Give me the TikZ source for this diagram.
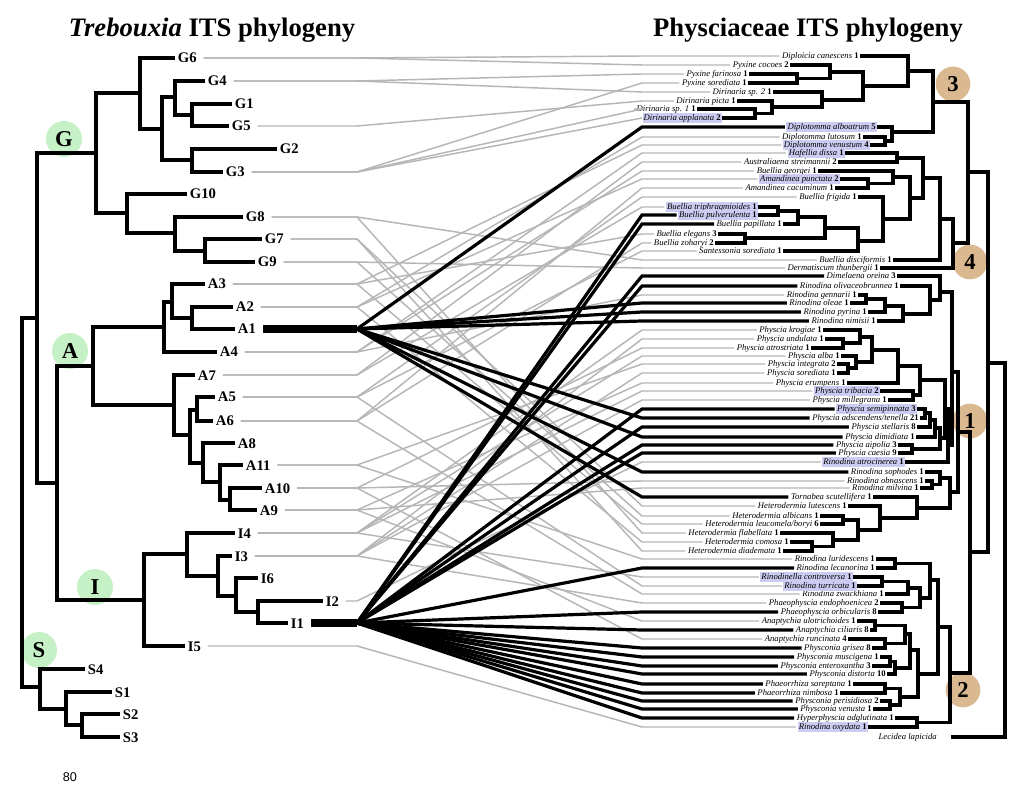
\documentclass[tikz,border=0pt]{standalone}
\usepackage{fontspec}
\setmainfont{Liberation Serif}
\setsansfont{Liberation Sans}
\usepackage{xcolor}
\usetikzlibrary{calc}
\definecolor{linkgray}{RGB}{182,182,182}
\definecolor{cladegreen}{RGB}{198,240,198}
\definecolor{cladetan}{RGB}{218,184,144}
\definecolor{hlblue}{RGB}{204,204,242}

\begin{document}
\begin{tikzpicture}[x=0.75pt,y=-0.75pt,
  br/.style={line width=2.5pt},
  glink/.style={linkgray, line width=1.1pt},
  blink/.style={black, line width=2.4pt},
  lt/.style={anchor=west, inner sep=2pt, font=\bfseries\fontsize{11}{11}\selectfont, text height=7.5pt, text depth=0pt},
  rt/.style={anchor=east, inner sep=0.8pt, font=\fontsize{6.5}{6.5}\selectfont, text height=4.7pt, text depth=1.4pt},
  hl/.style={rt, fill=hlblue},
  gclade/.style={circle, fill=cladegreen, minimum size=27pt, inner sep=0pt, font=\bfseries\fontsize{17}{17}\selectfont},
  nclade/.style={circle, fill=cladetan, minimum size=26pt, inner sep=0pt, font=\bfseries\fontsize{17}{17}\selectfont}]
  \useasboundingbox (0,0) rectangle (1024,805);
  \fill[white] (0,0) rectangle (1024,805);

  % titles and page number
  \node[font=\bfseries\fontsize{20}{20}\selectfont] (ltitle) at (212,30) {\textit{Trebouxia} ITS phylogeny};
  \node[font=\bfseries\fontsize{20}{20}\selectfont] (rtitle) at (808,30) {Physciaceae ITS phylogeny};
  \node[font=\sffamily\fontsize{9.5}{9.5}\selectfont] (pnum) at (70,777) {80};

  % clade marks
  \node[gclade] (cG) at (64,139) {G};
  \node[gclade] (cA) at (70,351) {A};
  \node[gclade] (cI) at (95,587) {I};
  \node[gclade] (cS) at (39,650) {S};
  \node[nclade] (c3) at (953,84) {3};
  \node[nclade] (c4) at (970,262) {4};
  \node[nclade] (c1) at (970,421) {1};
  \node[nclade] (c2) at (963,690) {2};

  % left tree: internal nodes
  \foreach \n/\x/\y in {lroot/22/502, nGAI/37/318, nAI/57/483, nG/96/153, nG1/140/93, nG1b/162/129,
      nG4/175/97, nG15/192/115, nG23/192/160, nG2/127/213, nG8/175/233, nG79/205/251,
      nA/93/366, nA1/164/327, nA3/172/302, nA12/192/318, nA2/174/405, nA5/190/435, nA56/197/410,
      nA8/203/463, nA11/220/482, nA910/230/500,
      nI/144/600, nI4/187/554, nI3/218/576, nI6/236/596, nI12/258/612,
      nS/40/687, nS1/66/709, nS23/82/725}
    \coordinate (\n) at (\x,\y);

  % left tree: taxa
  \foreach \n/\x/\y in {G6/175/58, G4/205/81, G1/232/104, G5/229/126, G2/277/149, G3/223/172,
      G10/187/194, G8/243/217, G7/262/239, G9/255/262,
      A3/205/284, A2/233/307, A1/235/329, A4/217/352, A7/195/375, A5/215/397, A6/213/421,
      A8/235/443, A11/243/465, A10/262/488, A9/257/510,
      I4/235/533, I3/232/556, I6/258/578, I2/323/601, I1/288/623, I5/185/646,
      S4/85/669, S1/112/692, S2/120/714, S3/120/737}
    \node[lt] (\n) at (\x,\y) {\n};

  % right tree: taxa
  \foreach \n/\t/\k/\x/\y in {
      Dcan/Diploicia canescens/1/860/56, Pcoc/Pyxine cocoes/2/790/65, Pfar/Pyxine farinosa/1/749/74,
      Psor/Pyxine sorediata/1/748/83, Dsp2/Dirinaria sp. 2/1/773/92, Dpic/Dirinaria picta/1/737/101,
      Dsp1/Dirinaria sp. 1/1/697/109, Dlut/Diplotomma lutosum/1/863/137,
      Astr/Australiaena streimannii/2/838/162, Bgeo/Buellia georgei/1/818/171,
      Acac/Amandinea cacuminum/1/835/188, Bfri/Buellia frigida/1/858/197,
      Bpap/Buellia papillata/1/783/224, Bele/Buellia elegans/3/718/234, Bzoh/Buellia zoharyi/2/715/243,
      Ssor/Santessonia sorediata/1/783/251, Bdis/Buellia disciformis/1/893/260,
      Dthu/Dermatiscum thunbergii/1/880/268, Dore/Dimelaena oreina/3/897/276,
      Roli/Rinodina olivaceobrunnea/1/900/286, Rgen/Rinodina gennarii/1/858/295,
      Role/Rinodina oleae/1/850/303, Rpyr/Rinodina pyrina/1/868/312, Rnim/Rinodina nimisii/1/877/321,
      Pkro/Physcia krogiae/1/823/330, Pund/Physcia undulata/1/825/339, Patr/Physcia atrostriata/1/811/348,
      Palb/Physcia alba/1/841/356, Pint/Physcia integrata/2/837/364, Psrd/Physcia sorediata/1/837/373,
      Peru/Physcia erumpens/1/847/383, Pmil/Physcia millegrana/1/888/400,
      Pste/Physcia stellaris/8/917/427, Pdim/Physcia dimidiata/1/916/437,
      Paip/Physcia aipolia/3/898/445, Pcae/Physcia caesia/9/898/453,
      Rsop/Rinodina sophodes/1/925/472, Robn/Rinodina obnascens/1/925/481, Rmil/Rinodina milvina/1/920/488,
      Tscu/Tornabea scutellifera/1/873/497, Hlut/Heterodermia lutescens/1/848/506,
      Halb/Heterodermia albicans/1/820/516, Hfla/Heterodermia flabellata/1/780/533,
      Hcom/Heterodermia comosa/1/790/542, Hdia/Heterodermia diademata/1/783/551,
      Rlur/Rinodina luridescens/1/876/559, Rlec/Rinodina lecanorina/1/876/568,
      Rzwa/Rinodina zwackhiana/1/885/594, Pend/Phaeophyscia endophoenicea/2/880/603,
      Porb/Phaeophyscia orbicularis/8/878/612, Aulo/Anaptychia ulotrichoides/1/857/621,
      Acil/Anaptychia ciliaris/8/870/630, Arun/Anaptychia runcinata/4/848/639,
      Pgri/Physconia grisea/8/872/648, Pmus/Physconia muscigena/1/880/657,
      Pent/Physconia enteroxantha/3/872/666, Pdis/Physconia distorta/10/887/674,
      Psar/Phaeorrhiza sareptana/1/853/684, Pnim/Phaeorrhiza nimbosa/1/840/693,
      Pper/Physconia perisidiosa/2/880/701, Pven/Physconia venusta/1/873/709,
      Hadg/Hyperphyscia adglutinata/1/895/718}
    \node[rt] (\n) at (\x,\y) {\textit{\t} \textbf{\k}};
  \node[rt] (Pads) at (920,418) {\textit{Physcia adscendens/tenella} \textbf{21}};
  \node[rt] (Hleu) at (820,524) {\textit{Heterodermia leucomela/boryi} \textbf{6}};
  \node[rt] (Llap) at (938,737) {\textit{Lecidea lapicida}};
  \foreach \n/\t/\k/\x/\y in {
      Dapp/Dirinaria applanata/2/722/118, Dalb/Diplotomma alboatrum/5/877/127,
      Dven/Diplotomma venustum/4/870/145, Hdis/Hafellia dissa/1/845/153,
      Apun/Amandinea punctata/2/840/179, Btri/Buellia triphragmioides/1/758/207,
      Bpul/Buellia pulverulenta/1/758/215, Ptri/Physcia tribacia/2/880/391,
      Psem/Physcia semipinnata/3/917/409, Ratr/Rinodina atrocinerea/1/905/462,
      Rcon/Rinodinella controversa/1/853/577, Rtur/Rinodina turricata/1/857/586,
      Roxy/Rinodina oxydata/1/868/727}
    \node[hl] (\n) at (\x,\y) {\textit{\t} \textbf{\k}};

  % right tree: internal nodes
  \foreach \n/\x/\y in {rP1/797/78.5, rP2/830/72, rD1/755/113.5, rD2/772/107, rD3/822/100, rPD/863/86,
      rDPD/908/71, rL1/885/141, rL2/892/132, r3/933/102,
      rH1/897/158, rA1/868/183.5, rA2/893/177, rB1/778/211, rB2/798/217, rB3/745/238, rB4/825/228,
      rB5/858/241, rF1/883/219, rF2/910/198, rF3/923/178, rF4/940/219, rF5/953/243, r4/968/172,
      rR1/866/299, rR2/885/306, rR3/903/314, rR4/930/300, rR5/940/292,
      rPh1/843/343, rPh2/860/337, rPh3/848/368, rPh4/856/362, rPh5/872/350, rPh6/898/366,
      rPh7/913/395, rPh8/920/380, rPh9/925/413, rPh10/930/420, rPh11/935/428, rPh12/912/449,
      rPh13/940/438, rPh14/945/409, rPh15/948/445, r1a/952/372,
      rS1/932/484.5, rS2/940/478, rHet1/843/520, rHet2/812/546.5, rHet3/833/540, rHet5/858/530,
      rHet6/880/518, rHet7/917/508, rS3/950/492, r1/958/432,
      rRl1/895/563.5, rRt1/882/581.5, rRt2/908/588, rPe/902/607.5, rRt3/920/598, rC2a/930/580,
      rAn1/875/625.5, rAn2/885/643.5, rPc1/890/661.5, rPc2/895/668, rPr1/885/688.5, rPv1/890/705,
      rPr2/900/697, rAn3/905/634, rAn4/910/650, rAn5/918/674, rHy/917/722.5,
      rC2b/938/627, r2a/950/673, r12/970/552, rR/988/363, rroot/1005/550}
    \coordinate (\n) at (\x,\y);

  \coordinate (hub) at (357,0);
  \coordinate (jun) at (642,0);

  % gray associations
  \foreach \a/\b in {G6/Dcan, G6/Pcoc, G4/Pfar, G4/Dsp2, G5/Dpic, G3/Psor, G3/Dsp1, G3/Dapp,
      A2/Dlut, A3/Dven, A4/Hdis, A7/Astr, A4/Bgeo, A2/Apun, A6/Acac, A5/Bfri, A7/Btri, A3/Bele,
      A6/Bzoh, A5/Ssor, G8/Bdis, G9/Dthu, A4/Rgen,
      I4/Pkro, I3/Pund, A10/Patr, I4/Palb, A11/Pint, I3/Psrd, A9/Peru, I4/Ptri, I3/Pmil,
      I2/Ratr, A10/Robn, A9/Rmil,
      G7/Hlut, G9/Halb, A3/Hleu, G8/Hfla, A2/Hcom, G7/Hdia, A11/Rlur, I4/Rcon, A5/Rtur,
      A6/Rzwa, I3/Pend, A9/Aulo, A10/Arun, I5/Roxy}
    \draw[glink] ([xshift=3pt]\a.east) -- (\a.east -| hub) -- (\b.west -| jun) -- ([xshift=-1pt]\b.west);

  % black associations
  \coordinate (A1hub) at (A1.east -| hub);
  \coordinate (I1hub) at (I1.east -| hub);
  \draw[line width=6.5pt] ([xshift=3pt]A1.east) -- (A1hub);
  \draw[line width=6.5pt] ([xshift=3pt]I1.east) -- (I1hub);
  \foreach \b in {Dalb, Role, Rpyr, Rnim, Pads, Pdim, Rsop, Tscu}
    \draw[blink] (A1hub) -- (\b.west -| jun) -- ([xshift=-1pt]\b.west);
  \foreach \b in {Bpul, Bpap, Dore, Roli, Psem, Pste, Paip, Pcae, Rlec, Porb, Acil, Pgri,
      Pmus, Pent, Pdis, Psar, Pnim, Pper, Pven, Hadg}
    \draw[blink] (I1hub) -- (\b.west -| jun) -- ([xshift=-1pt]\b.west);

  % left tree branches
  \foreach \p/\c in {lroot/nGAI, lroot/nS, nGAI/nG, nGAI/nAI, nAI/nA, nAI/nI, nG/nG1, nG/nG2,
      nG1/nG1b, nG1b/nG4, nG1b/nG23, nG4/nG15, nG2/nG8, nG8/nG79, nA/nA1, nA/nA2, nA1/nA3,
      nA3/nA12, nA2/nA5, nA5/nA56, nA5/nA8, nA8/nA11, nA11/nA910, nI/nI4, nI4/nI3, nI3/nI6,
      nI6/nI12, nS/nS1, nS1/nS23}
    \draw[br] (\p) |- (\c);
  \foreach \p/\c in {nG1/G6, nG4/G4, nG15/G1, nG15/G5, nG23/G2, nG23/G3, nG2/G10, nG8/G8,
      nG79/G7, nG79/G9, nA3/A3, nA12/A2, nA12/A1, nA1/A4, nA2/A7, nA56/A5, nA56/A6, nA8/A8,
      nA11/A11, nA910/A10, nA910/A9, nI4/I4, nI3/I3, nI6/I6, nI12/I2, nI12/I1, nI/I5,
      nS/S4, nS1/S1, nS23/S2, nS23/S3}
    \draw[br] (\p) |- (\c.west);

  % right tree branches
  \foreach \c/\p in {rP1/rP2, rD1/rD2, rD2/rD3, rP2/rPD, rD3/rPD, rPD/rDPD, rL1/rL2, rDPD/r3, rL2/r3,
      rA1/rA2, rB1/rB2, rB2/rB4, rB3/rB4, rB4/rB5, rB5/rF1, rA2/rF2, rF1/rF2, rH1/rF3, rF2/rF3,
      rF3/rF4, rF4/rF5, r3/r4, rF5/r4,
      rR1/rR2, rR2/rR3, rR3/rR4, rR4/rR5, rR5/r1a,
      rPh1/rPh2, rPh3/rPh4, rPh2/rPh5, rPh4/rPh5, rPh5/rPh6, rPh6/rPh8, rPh7/rPh8, rPh9/rPh10,
      rPh10/rPh11, rPh11/rPh13, rPh12/rPh13, rPh8/rPh14, rPh13/rPh14, rPh14/rPh15, rPh15/r1a,
      rS1/rS2, rS2/rS3, rHet2/rHet3, rHet1/rHet5, rHet3/rHet5, rHet5/rHet6, rHet6/rHet7,
      rHet7/rS3, r1a/r1, rS3/r1,
      rRl1/rC2a, rRt1/rRt2, rRt2/rRt3, rPe/rRt3, rRt3/rC2a, rC2a/rC2b,
      rAn1/rAn3, rAn2/rAn3, rAn3/rAn4, rPc1/rPc2, rPc2/rAn4, rPr1/rPr2, rPv1/rPr2, rAn4/rAn5,
      rPr2/rAn5, rAn5/rC2b, rC2b/r2a, rHy/r2a,
      r1/r12, r2a/r12, r4/rR, r12/rR, rR/rroot}
    \draw[br] (\c) -| (\p);
  \foreach \c/\p in {Pfar/rP1, Psor/rP1, Pcoc/rP2, Dsp1/rD1, Dapp/rD1, Dpic/rD2, Dsp2/rD3,
      Dcan/rDPD, Dlut/rL1, Dven/rL1, Dalb/rL2,
      Hdis/rH1, Astr/rH1, Apun/rA1, Acac/rA1, Bgeo/rA2, Btri/rB1, Bpul/rB1, Bpap/rB2, Bele/rB3,
      Bzoh/rB3, Ssor/rB5, Bfri/rF1, Bdis/rF4, Dthu/rF5,
      Rgen/rR1, Role/rR1, Rpyr/rR2, Rnim/rR3, Roli/rR4, Dore/rR5,
      Pund/rPh1, Patr/rPh1, Pkro/rPh2, Pint/rPh3, Psrd/rPh3, Palb/rPh4, Peru/rPh6, Ptri/rPh7,
      Pmil/rPh7, Psem/rPh9, Pads/rPh9, Pste/rPh10, Pdim/rPh11, Paip/rPh12, Pcae/rPh12, Ratr/rPh15,
      Robn/rS1, Rmil/rS1, Rsop/rS2, Halb/rHet1, Hleu/rHet1, Hcom/rHet2, Hdia/rHet2, Hfla/rHet3,
      Hlut/rHet6, Tscu/rHet7,
      Rlur/rRl1, Rlec/rRl1, Rcon/rRt1, Rtur/rRt1, Rzwa/rRt2, Pend/rPe, Porb/rPe,
      Aulo/rAn1, Acil/rAn1, Arun/rAn2, Pgri/rAn2, Pmus/rPc1, Pent/rPc1, Pdis/rPc2, Psar/rPr1,
      Pnim/rPr1, Pper/rPv1, Pven/rPv1, Hadg/rHy, Roxy/rHy}
    \draw[br] (\c.east) -| (\p);
  \draw[br] ([xshift=10pt]Llap.east) -| (rroot);
\end{tikzpicture}
\end{document}
